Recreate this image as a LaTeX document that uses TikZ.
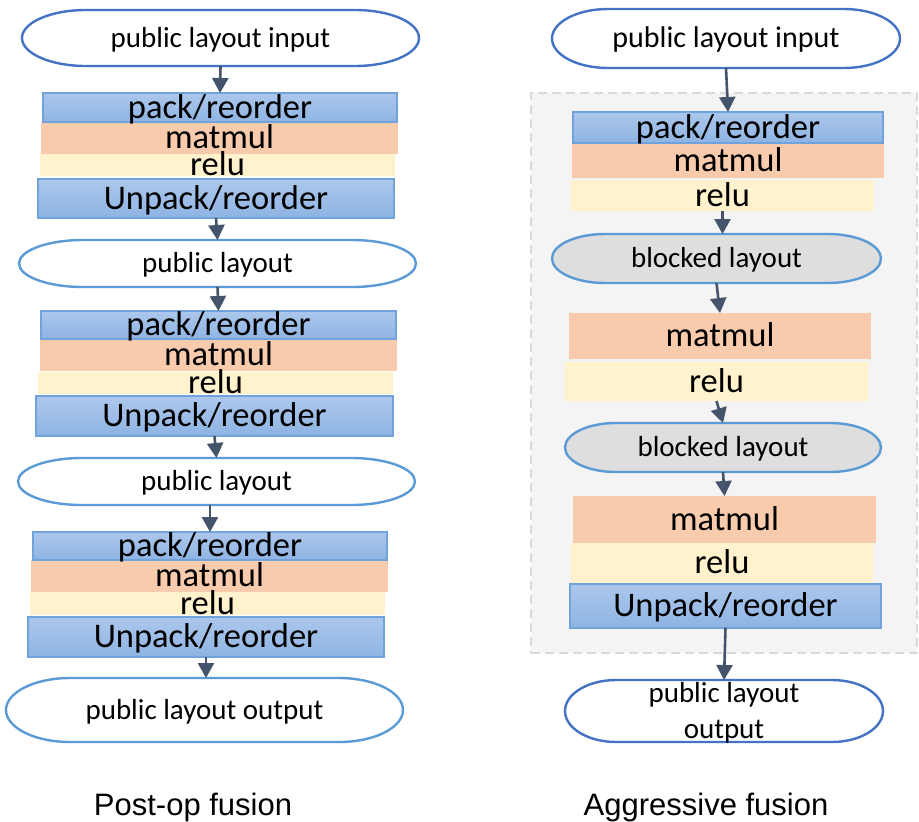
\documentclass[tikz,border=0pt]{standalone}
\usepackage{fontspec}
\setmainfont{Carlito}
\newfontfamily\capfont{Liberation Sans}
\usetikzlibrary{arrows.meta}
\definecolor{dkblue}{RGB}{68,114,196}
\definecolor{ltblue}{RGB}{91,155,213}
\definecolor{arrowc}{RGB}{68,84,106}
\definecolor{mmfill}{RGB}{248,203,173}
\definecolor{rlfill}{RGB}{255,242,204}
\definecolor{blkfill}{RGB}{222,222,222}
\definecolor{bgfill}{RGB}{244,244,244}
\definecolor{bgline}{RGB}{217,217,217}
\definecolor{bluetop}{RGB}{172,199,236}
\definecolor{bluebot}{RGB}{142,180,227}
\definecolor{blueline}{RGB}{112,162,220}
\tikzset{
  boxtext/.style={inner sep=0pt, outer sep=0pt, font=\fontsize{34.5}{40}\selectfont, text height=21pt, text depth=0pt},
  stadtext/.style={inner sep=0pt, outer sep=0pt, font=\fontsize{29}{36}\selectfont, text height=18pt, text depth=0pt},
  bluebox/.style={boxtext, draw=blueline, line width=1.5pt, top color=bluetop, bottom color=bluebot},
  mmbox/.style={boxtext, fill=mmfill},
  rlbox/.style={boxtext, fill=rlfill},
  darkstad/.style={draw=dkblue, line width=2.4pt, fill=white},
  lightstad/.style={draw=ltblue, line width=2.4pt, fill=white},
  graystad/.style={draw=ltblue, line width=2.4pt, fill=blkfill},
  arr/.style={draw=arrowc, line width=2.6pt, -{Triangle[width=16pt,length=15pt]}},
  captext/.style={inner sep=0pt, font=\capfont\fontsize{31}{36}\selectfont, anchor=base}
}
% block: name, x1, y1, x2, y2, style, text
\newcommand\blk[7]{%
  \pgfmathsetmacro\bw{#4-#2}\pgfmathsetmacro\bh{#5-#3}%
  \node[#6, minimum width=\bw pt, minimum height=\bh pt] (#1) at ({(#2+#4)/2},{(#3+#5)/2}) {#7};}
% terminator shape: name, x1, y1, x2, y2, shape style, node options, text
\newcommand\stad[8]{%
  \pgfmathsetmacro\sw{#4-#2}\pgfmathsetmacro\sh{#5-#3}%
  \pgfmathsetmacro\srx{0.161*\sw}\pgfmathsetmacro\sry{\sh/2}%
  \draw[#6] ({#2+\srx},{#3}) -- ({#4-\srx},{#3})
     arc[start angle=90, end angle=-90, x radius=\srx pt, y radius=\sry pt]
     -- ({#2+\srx},{#5})
     arc[start angle=-90, end angle=-270, x radius=\srx pt, y radius=\sry pt] -- cycle;
  \node[stadtext, minimum width=\sw pt, minimum height=\sh pt, #7] (#1) at ({(#2+#4)/2},{(#3+#5)/2}) {#8};}
\begin{document}
\begin{tikzpicture}[x=1pt, y=-1pt]
\useasboundingbox (0,0) rectangle (919,822);
\fill[white] (0,0) rectangle (919,822);

% ---------- left column: post-op fusion ----------
\stad{L1}{22}{10}{419}{66}{darkstad}{}{public layout input}
\blk{LM1}{41}{122}{398}{154}{mmbox}{matmul}
\blk{LR1}{40}{154}{395}{176}{rlbox}{relu}
\blk{LP1}{43}{93}{397}{122}{bluebox}{pack/reorder}
\blk{LU1}{38}{179}{394}{218}{bluebox}{Unpack/reorder}
\stad{L2}{19}{240}{416}{287}{lightstad}{}{public layout}
\blk{LM2}{40}{339}{397}{371}{mmbox}{matmul}
\blk{LR2}{38}{372}{393}{394}{rlbox}{relu}
\blk{LP2}{41}{311}{396}{339}{bluebox}{pack/reorder}
\blk{LU2}{36}{396}{393}{436}{bluebox}{Unpack/reorder}
\stad{L3}{18}{458}{415}{505}{lightstad}{}{public layout}
\blk{LM3}{31}{560}{388}{592}{mmbox}{matmul}
\blk{LR3}{30}{592}{385}{615}{rlbox}{relu}
\blk{LP3}{33}{532}{387}{560}{bluebox}{pack/reorder}
\blk{LU3}{28}{617}{384}{657}{bluebox}{Unpack/reorder}
\stad{L4}{6}{678}{403}{742}{lightstad}{}{public layout output}

\draw[arr] (L1.south) -- (LP1.north);
\draw[arr] (LU1.south) -- (L2.north);
\draw[arr] (L2.south) -- (LP2.north);
\draw[arr] (LU2.south) -- (L3.north);
\draw[arr] (L3.south -| LP3.north) -- (LP3.north);
\draw[arr] (LU3.south) -- (LU3.south |- L4.north);

% ---------- right column: aggressive fusion ----------
\node[draw=bgline, fill=bgfill, line width=2pt, dash pattern=on 9pt off 5pt,
      minimum width=386pt, minimum height=560pt, inner sep=0pt] (fused) at (724,373) {};
\stad{R1}{552}{9}{900}{68}{darkstad}{font=\fontsize{30}{36}\selectfont}{public layout input}
\blk{RM1}{572}{143}{884}{178}{mmbox}{matmul}
\blk{RR1}{571}{180}{874}{211}{rlbox}{relu}
\blk{RP1}{573}{112}{883}{143}{bluebox}{pack/reorder}
\stad{RB1}{552}{234}{881}{283}{graystad}{}{blocked layout}
\blk{RM2}{569}{313}{871}{359}{mmbox}{matmul}
\blk{RR2}{565}{362}{868}{401}{rlbox}{relu}
\stad{RB2}{565}{423}{881}{472}{graystad}{}{blocked layout}
\blk{RM3}{573}{496}{876}{543}{mmbox}{matmul}
\blk{RR3}{571}{543}{873}{583}{rlbox}{relu}
\blk{RU}{570}{584}{881}{628}{bluebox}{Unpack/reorder}
\stad{R4}{565}{680}{883}{742}{darkstad}{text height=0pt, text depth=18pt}{\begin{tabular}[t]{@{}c@{}}public layout\\output\end{tabular}}

\draw[arr] (R1.south) -- (RP1.north);
\draw[arr] (RR1.south) -- (RR1.south |- RB1.north);
\draw[arr] (RB1.south) -- (RM2.north);
\draw[arr] (RR2.south) -- (RB2.north);
\draw[arr] (RB2.south) -- (RM3.north);
\draw[arr] (RU.south) -- (R4.north);

% ---------- captions ----------
\node[captext] (cap1) at (193,815) {Post-op fusion};
\node[captext] (cap2) at (706,815) {Aggressive fusion};
\end{tikzpicture}
\end{document}
